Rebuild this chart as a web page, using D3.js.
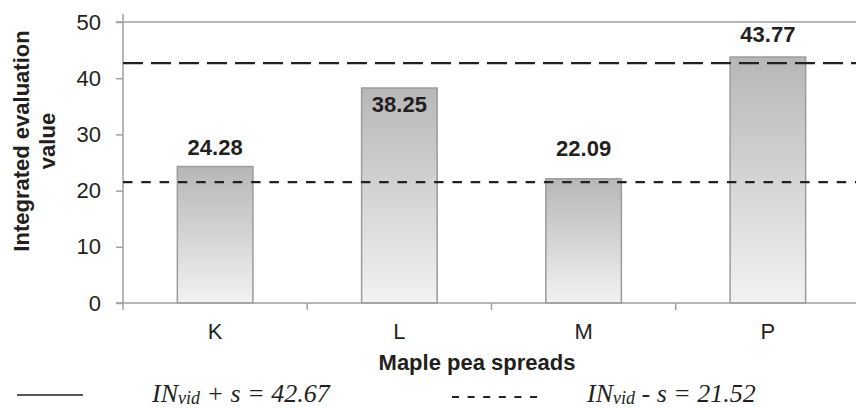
<!DOCTYPE html>
<html>
<head>
<meta charset="utf-8">
<script src="https://cdn.jsdelivr.net/npm/d3@7"></script>
<style>
  body { margin: 0; background: #fff; }
  svg { display: block; }
  text { fill: #231f20; }
</style>
</head>
<body>
<svg width="856" height="408"></svg>
<script>
// data
var spreads = ["K", "L", "M", "P"];
var scores = [24.28, 38.25, 22.09, 43.77];
var yTicks = [0, 10, 20, 30, 40, 50];
var upperLimit = 42.67;   // IN_vid + s
var lowerLimit = 21.52;   // IN_vid - s

// label nudges (px, relative to bar top) so numbers dodge the reference lines
var labelDy = [-12, 24, -23, -15];

var svg = d3.select("svg"),
    width = +svg.attr("width"),
    height = +svg.attr("height");

var plotLeft = 123, plotRight = 860, plotTop = 22, plotBottom = 303;
var axisColor = "#a0a0a0";

var x = d3.scaleBand()
    .domain(spreads)
    .range([plotLeft, plotRight])
    .padding(0);

var y = d3.scaleLinear()
    .domain([0, 50])
    .range([plotBottom, plotTop]);

var barW = x.bandwidth() * 0.41;

// per-bar vertical gradient
var defs = svg.append("defs");
var grad = defs.append("linearGradient")
    .attr("id", "barFill")
    .attr("x1", 0).attr("y1", 0)
    .attr("x2", 0).attr("y2", 1);
grad.append("stop").attr("offset", "0%").attr("stop-color", "#b7b7b7");
grad.append("stop").attr("offset", "100%").attr("stop-color", "#f2f2f2");

// top border line at 50
svg.append("line")
    .attr("x1", plotLeft - 7).attr("x2", plotRight)
    .attr("y1", y(50)).attr("y2", y(50))
    .attr("stroke", axisColor)
    .attr("stroke-width", 1.5);

// bars
svg.selectAll(".bar")
    .data(scores)
    .enter()
    .append("rect")
    .attr("class", "bar")
    .attr("x", function(d, i) { return x(spreads[i]) + (x.bandwidth() - barW) / 2; })
    .attr("y", function(d) { return y(d); })
    .attr("width", barW)
    .attr("height", function(d) { return y(0) - y(d); })
    .style("fill", "url(#barFill)")
    .attr("stroke", "#9b9b9b")
    .attr("stroke-width", 1.5);

// y axis
var yAxis = d3.axisLeft(y)
    .tickValues(yTicks)
    .tickSize(7)
    .tickSizeOuter(0)
    .tickPadding(15);

var gy = svg.append("g")
    .attr("transform", "translate(" + plotLeft + ",0)")
    .call(yAxis);
gy.select(".domain").remove();
gy.selectAll("line").attr("stroke", axisColor).attr("stroke-width", 1.5);
gy.selectAll("text")
    .style("font", "22px 'Liberation Sans', Arial, sans-serif")
    .style("fill", "#231f20");
gy.append("line")
    .attr("x1", 0).attr("x2", 0)
    .attr("y1", plotTop - 8).attr("y2", plotBottom + 7)
    .attr("stroke", axisColor)
    .attr("stroke-width", 1.5);

// x axis
var xAxis = d3.axisBottom(x)
    .tickSize(0)
    .tickPadding(20);

var gx = svg.append("g")
    .attr("transform", "translate(0," + plotBottom + ")")
    .call(xAxis);
gx.select(".domain").remove();
gx.selectAll("text")
    .style("font", "22px 'Liberation Sans', Arial, sans-serif")
    .style("fill", "#231f20");
gx.append("line")
    .attr("x1", plotLeft - 7).attr("x2", plotRight)
    .attr("y1", 0).attr("y2", 0)
    .attr("stroke", axisColor)
    .attr("stroke-width", 1.5);
gx.selectAll(".sep")
    .data(spreads.slice(1))
    .enter()
    .append("line")
    .attr("class", "sep")
    .attr("x1", function(d) { return x(d); })
    .attr("x2", function(d) { return x(d); })
    .attr("y1", 0).attr("y2", 7)
    .attr("stroke", axisColor)
    .attr("stroke-width", 1.5);

// reference lines
svg.append("line")
    .attr("x1", plotLeft).attr("x2", width)
    .attr("y1", y(upperLimit)).attr("y2", y(upperLimit))
    .attr("stroke", "#222")
    .attr("stroke-width", 2.2)
    .attr("stroke-dasharray", "20,8");

svg.append("line")
    .attr("x1", plotLeft).attr("x2", width)
    .attr("y1", y(lowerLimit)).attr("y2", y(lowerLimit))
    .attr("stroke", "#222")
    .attr("stroke-width", 2.2)
    .attr("stroke-dasharray", "9.5,8.8");

// value labels
svg.selectAll(".val")
    .data(scores)
    .enter()
    .append("text")
    .attr("class", "val")
    .attr("x", function(d, i) { return x(spreads[i]) + x.bandwidth() / 2; })
    .attr("y", function(d, i) { return y(d) + labelDy[i]; })
    .style("text-anchor", "middle")
    .style("font", "bold 22px 'Liberation Sans', Arial, sans-serif")
    .text(function(d) { return d3.format(".2f")(d); });

// axis titles
svg.append("text")
    .attr("x", 477)
    .attr("y", 370)
    .style("text-anchor", "middle")
    .style("font", "bold 22px 'Liberation Sans', Arial, sans-serif")
    .text("Maple pea spreads");

var yTitle = svg.append("text")
    .attr("transform", "translate(29,141) rotate(-90)")
    .style("text-anchor", "middle")
    .style("font", "bold 22px 'Liberation Sans', Arial, sans-serif");
yTitle.append("tspan").attr("x", 0).attr("dy", 0).text("Integrated evaluation");
yTitle.append("tspan").attr("x", 0).attr("dy", 26).text("value");

// legend
var legendFont = "italic 26px 'Liberation Serif', 'Times New Roman', serif";

svg.append("line")
    .attr("x1", 17).attr("x2", 83)
    .attr("y1", 395).attr("y2", 395)
    .attr("stroke", "#222")
    .attr("stroke-width", 1.6);

var t1 = svg.append("text")
    .attr("x", 152).attr("y", 402)
    .style("font", legendFont);
t1.append("tspan").text("IN");
t1.append("tspan").attr("dy", 2).style("font-size", "18px").text("vid");
t1.append("tspan").attr("dy", -2).text(" + s = " + upperLimit.toFixed(2));

svg.append("line")
    .attr("x1", 452).attr("x2", 537)
    .attr("y1", 397).attr("y2", 397)
    .attr("stroke", "#222")
    .attr("stroke-width", 2)
    .attr("stroke-dasharray", "7,8.6");

var t2 = svg.append("text")
    .attr("x", 587).attr("y", 402)
    .style("font", legendFont);
t2.append("tspan").text("IN");
t2.append("tspan").attr("dy", 2).style("font-size", "18px").text("vid");
t2.append("tspan").attr("dy", -2).text(" - s = " + lowerLimit.toFixed(2));
</script>
</body>
</html>
